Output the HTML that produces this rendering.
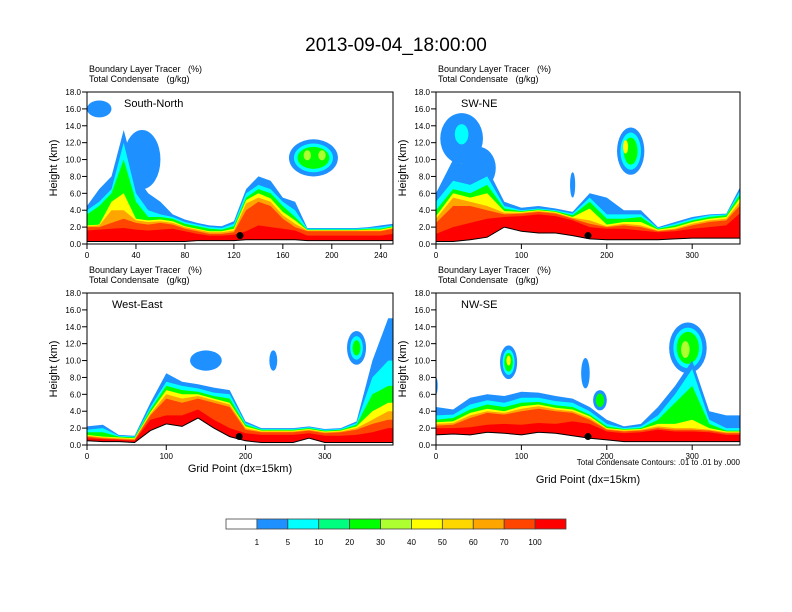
<!DOCTYPE html>
<html><head><meta charset="utf-8"><style>
body{margin:0;background:#fff;}
svg{display:block;font-family:"Liberation Sans",sans-serif;}
text{white-space:pre;}
</style></head><body>
<svg id="chart" width="792" height="612" viewBox="0 0 792 612" xmlns="http://www.w3.org/2000/svg">
<text x="396" y="51" font-size="19" text-anchor="middle">2013-09-04_18:00:00</text>
<g id="panels"></g>
<g id="colorbar"></g>
</svg>
<script>
const NS="http://www.w3.org/2000/svg";
const colors=["#ffffff","#1e90ff","#00ffff","#00ff7f","#00ff00","#adff2f","#ffff00","#ffd700","#ffa500","#ff4500","#ff0000"];
const cbLabels=["1","5","10","20","30","40","50","60","70","100"];
const layerColors=[1,2,4,6,8,9,10];

// Panel 1 South-North
const p1x=[0,10,20,30,40,50,60,70,80,90,100,110,120,130,140,150,160,170,180,190,200,210,220,230,240,250];
const p1terrain=[0.3,0.3,0.3,0.3,0.3,0.3,0.3,0.3,0.3,0.4,0.4,0.4,0.4,0.5,0.5,0.5,0.5,0.5,0.4,0.4,0.4,0.4,0.4,0.4,0.4,0.4];
const p1blue=[4.5,6.5,8,13.5,8,6,5,3.5,2.9,2.5,2.2,2.1,2.7,6.5,8,7.5,5.5,5,1.9,1.9,1.9,1.9,1.9,2.0,2.2,2.4];
const p1cyan=[4,5,6.5,12,6,4,3.5,3.2,2.6,2.3,2.0,1.9,2.4,6,7,6.5,5,4,1.8,1.8,1.8,1.8,1.8,1.9,2.0,2.2];
const p1green=[3.5,4.5,6,10,5,3.2,3.2,3.0,2.4,2.1,1.8,1.7,2.1,5.5,6.5,6.0,4.5,3.2,1.7,1.7,1.7,1.7,1.7,1.8,1.8,2.1];
const p1yellow=[2.2,2.3,5,6,3.0,2.8,2.9,2.7,2.1,1.8,1.5,1.5,1.8,5.2,6.0,5.4,3.8,2.8,1.65,1.65,1.65,1.65,1.65,1.7,1.7,2.0];
const p1orange=[2.1,2.2,4,4,2.8,2.6,2.7,2.5,2.0,1.7,1.4,1.4,1.6,4.8,5.5,5.0,3.4,2.4,1.6,1.6,1.6,1.6,1.6,1.6,1.6,1.9];
const p1ored=[2.0,2.0,2.5,3.0,2.5,2.3,2.5,2.3,1.8,1.5,1.2,1.2,1.4,4.0,5.0,4.5,3.0,2.0,1.5,1.5,1.5,1.5,1.5,1.5,1.5,1.8];
const p1red=[1.6,1.7,1.8,1.9,1.7,1.6,1.7,1.8,1.5,1.2,1.0,1.0,1.1,1.5,2.2,2.0,1.8,1.6,1.0,1.0,1.0,1.0,1.0,1.0,1.0,1.2];
const p1blobs=[[10,16,10,1,1],[45,10,15,3.5,1],[185,10.2,20,2.2,1],[185,10.2,16,1.7,2],[185,10.2,13,1.3,4],[180,10.5,3,0.6,5],[192,10.5,3,0.6,5]];
const p1dot=[125,1.0];

// Panel 2 SW-NE
const p2x=[0,20,40,60,80,100,120,140,160,180,200,220,240,260,280,300,320,340,360];
const p2terrain=[0.3,0.3,0.5,0.8,2.0,1.5,1.3,1.3,1.0,0.6,0.5,0.5,0.5,0.5,0.6,0.7,0.7,0.7,0.7];
const p2blue=[6,10,9,9,5,4.3,4.5,4.2,3.8,6.0,5.5,4.0,4.0,2.0,2.6,3.2,3.5,3.6,7.5];
const p2cyan=[5,7.5,7,8,4.5,4.0,4.2,4.0,3.6,5.5,3.5,3.5,3.5,1.9,2.4,3.0,3.4,3.5,7];
const p2green=[4.0,6.5,6.0,7.0,4.2,3.9,4.1,3.9,3.4,5.0,3.0,3.0,3.2,1.8,2.2,2.8,3.2,3.4,6.5];
const p2yellow=[3.3,6.0,5.5,6,3.9,3.8,4.0,3.8,3.2,4.2,2.3,2.6,2.6,1.7,2.0,2.6,3.0,3.2,6];
const p2orange=[3.0,5.5,5.0,4.5,3.7,3.7,3.9,3.7,3.1,2.8,2.1,2.4,2.2,1.6,1.8,2.4,2.8,3.0,5.5];
const p2ored=[2.5,4.5,4.5,4.0,3.5,3.6,3.8,3.6,3.0,2.4,2.0,2.2,2.0,1.5,1.7,2.2,2.6,2.8,5];
const p2red=[1.2,2.0,2.5,3.0,3.2,3.3,3.5,3.3,2.8,2.0,1.8,1.8,1.6,1.4,1.5,1.8,2.0,2.2,4];
const p2blobs=[[30,12.5,25,3,1],[50,9,20,2.5,1],[30,13,8,1.2,2],[160,7,3,1.5,1],[228,11,16,2.8,1],[228,11,12,2.2,2],[228,11,8,1.6,4],[222,11.5,3,0.8,6]];
const p2dot=[178,1.0];

// Panel 3 West-East
const p3x=[0,20,40,60,80,100,120,140,160,180,200,220,240,260,280,300,320,340,360,380,400];
const p3terrain=[0.5,0.4,0.4,0.3,1.7,2.5,2.2,3.2,2.0,1.0,0.5,0.3,0.3,0.3,0.8,0.3,0.3,0.3,0.3,0.3,0.3];
const p3blue=[2.2,2.4,1.2,1.1,5,8.5,7.5,7.2,6.8,6.5,2.8,2.0,2.0,2.0,2.2,1.9,2.0,2.8,10,15,15];
const p3cyan=[1.8,2.0,1.1,1.0,4.5,7.5,7.0,6.7,6.2,6.0,2.6,1.9,1.9,1.9,2.1,1.8,1.9,2.6,8,10,10];
const p3green=[1.5,1.5,1.0,0.9,4.2,7.0,6.5,6.3,5.8,5.5,2.4,1.8,1.8,1.8,2.0,1.7,1.8,2.4,6,7,7];
const p3yellow=[1.2,1.0,0.9,0.8,3.9,6.5,6.0,6.0,5.5,5.0,2.2,1.7,1.7,1.7,1.9,1.6,1.7,2.2,4,5,5];
const p3orange=[1.1,0.9,0.8,0.7,3.7,6.0,5.5,5.8,5.3,4.8,2.0,1.6,1.6,1.6,1.8,1.5,1.6,2.0,3,4,4];
const p3ored=[1.0,0.8,0.7,0.6,3.5,5.5,5.0,5.5,5.0,4.5,1.8,1.5,1.5,1.5,1.7,1.4,1.5,1.8,2.5,3,3];
const p3red=[0.8,0.7,0.6,0.5,3,3.5,3.5,4.2,3.0,2.0,1.4,1.2,1.2,1.2,1.4,1.1,1.1,1.2,1.5,2,2];
const p3blobs=[[150,10,20,1.2,1],[235,10,5,1.2,1],[340,11.5,12,2,1],[340,11.5,8,1.4,2],[340,11.5,5,0.9,4]];
const p3dot=[192,1.0];

// Panel 4 NW-SE
const p4x=[0,20,40,60,80,100,120,140,160,180,200,220,240,260,280,300,320,340,360];
const p4terrain=[1.2,1.3,1.2,1.5,1.4,1.2,1.5,1.4,1.1,0.8,0.6,0.4,0.4,0.4,0.4,0.4,0.4,0.4,0.4];
const p4blue=[4.5,4.2,5.6,6.0,5.8,6.3,6.2,5.8,5.5,4.5,3.0,2.2,2.5,4.5,7,10,4,3.5,3.5];
const p4cyan=[3.5,3.6,4.8,5.3,5.0,5.6,5.6,5.2,5.0,4.0,2.5,2.0,2.2,3.5,6,9,3,2.0,2.0];
const p4green=[3.0,3.2,4.2,4.8,4.5,5.0,5.1,4.7,4.5,3.6,2.2,1.9,2.0,3.0,5,7,2.5,1.7,1.7];
const p4yellow=[2.7,2.8,3.8,4.3,4.0,4.6,4.8,4.4,4.2,3.4,2.0,1.8,1.9,2.5,2.5,3,2.0,1.6,1.6];
const p4orange=[2.5,2.6,3.5,4.0,3.8,4.3,4.6,4.2,4.0,3.2,1.9,1.7,1.8,2.2,2.0,2.0,1.8,1.5,1.5];
const p4ored=[2.3,2.4,3.2,3.8,3.6,4.0,4.3,4.0,3.8,3.0,1.8,1.6,1.7,2.0,1.8,1.8,1.7,1.4,1.4];
const p4red=[2,2.0,2.1,2.4,2.5,2.4,2.6,2.5,2.8,2.5,1.6,1.4,1.5,1.8,1.6,1.6,1.5,1.2,1.2];
const p4blobs=[[85,9.8,10,2,1],[85,9.8,7,1.5,2],[85,9.8,5,1.1,4],[85,10,2.5,0.6,6],[175,8.5,5,1.8,1],[192,5.3,8,1.2,1],[192,5.3,5,0.8,4],[295,11.5,22,3,1],[295,11.5,17,2.4,2],[295,11.5,13,1.9,4],[292,11.3,5,1.0,5],[0,7.0,2,1,1]];
const p4dot=[178,1.0];

const yTicks=[0,2,4,6,8,10,12,14,16,18];
const panels=[
 {name:"south-north",label:"South-North",x0:87,y0:92,w:306,h:152,xmax:250,xt:[0,40,80,120,160,200,240],xs:p1x,t:p1terrain,L:[p1blue,p1cyan,p1green,p1yellow,p1orange,p1ored,p1red],blobs:p1blobs,dot:p1dot,xlab:false},
 {name:"sw-ne",label:"SW-NE",x0:436,y0:92,w:304,h:152,xmax:356,xt:[0,100,200,300],xs:p2x,t:p2terrain,L:[p2blue,p2cyan,p2green,p2yellow,p2orange,p2ored,p2red],blobs:p2blobs,dot:p2dot,xlab:false},
 {name:"west-east",label:"West-East",x0:87,y0:293,w:306,h:152,xmax:386,xt:[0,100,200,300],xs:p3x,t:p3terrain,L:[p3blue,p3cyan,p3green,p3yellow,p3orange,p3ored,p3red],blobs:p3blobs,dot:p3dot,xlab:true},
 {name:"nw-se",label:"NW-SE",x0:436,y0:293,w:304,h:152,xmax:356,xt:[0,100,200,300],xs:p4x,t:p4terrain,L:[p4blue,p4cyan,p4green,p4yellow,p4orange,p4ored,p4red],blobs:p4blobs,dot:p4dot,xlab:true}
];
function mk(tag,attrs,parent){const e=document.createElementNS(NS,tag);for(const k in attrs)e.setAttribute(k,attrs[k]);if(parent)parent.appendChild(e);return e;}
const root=document.getElementById("panels");
panels.forEach((p,pi)=>{
 const g=mk("g",{},root);
 
 
 const sx=v=>p.x0+v/p.xmax*p.w;
 const sy=v=>p.y0+p.h-v/18*p.h;
 const cid="clip"+pi;
 const cp=mk("clipPath",{id:cid},g);mk("rect",{x:p.x0,y:p.y0,width:p.w,height:p.h},cp);
 const plot=mk("g",{"clip-path":"url(#"+cid+")"},g);
 p.blobs.forEach(b=>{
  const e=mk("ellipse",{cx:sx(b[0]),cy:sy(b[1]),rx:b[2]/p.xmax*p.w,ry:b[3]/18*p.h,fill:colors[b[4]]},plot);
  
  
 });
 p.L.forEach((arr,li)=>{
  let d="M"+sx(p.xs[0])+","+sy(0);
  arr.forEach((v,i)=>{d+=" L"+sx(p.xs[i]).toFixed(1)+","+sy(v).toFixed(1);});
  d+=" L"+sx(p.xs[p.xs.length-1])+","+sy(0)+"Z";
  const path=mk("path",{d:d,fill:colors[layerColors[li]]},plot);
  
  
 });
 let td="M"+sx(p.xs[0])+","+sy(0);
 let tl="";
 p.t.forEach((v,i)=>{td+=" L"+sx(p.xs[i]).toFixed(1)+","+sy(v).toFixed(1);tl+=(i?" L":"M")+sx(p.xs[i]).toFixed(1)+","+sy(v).toFixed(1);});
 td+=" L"+sx(p.xs[p.xs.length-1])+","+sy(0)+"Z";
 const ter=mk("path",{d:td,fill:"#fff"},plot);
 
 
 mk("path",{d:tl,fill:"none",stroke:"#000","stroke-width":1},plot);
 const dot=mk("circle",{cx:sx(p.dot[0]),cy:sy(p.dot[1]),r:3.5,fill:"#000"},plot);
 
 
 const fr=mk("rect",{x:p.x0,y:p.y0,width:p.w,height:p.h,fill:"none",stroke:"#000","stroke-width":1},g);
 
 
 yTicks.forEach(v=>{
  const y=sy(v);
  mk("line",{x1:p.x0-5,x2:p.x0,y1:y,y2:y,stroke:"#000"},g);
  const t=mk("text",{x:p.x0-6,y:y+3,"font-size":8,"text-anchor":"end"},g);
  t.textContent=v.toFixed(1);
  
  
 });
 p.xt.forEach(v=>{
  const x=sx(v);
  mk("line",{x1:x,x2:x,y1:p.y0+p.h,y2:p.y0+p.h+5,stroke:"#000"},g);
  const t=mk("text",{x:x,y:p.y0+p.h+14,"font-size":8,"text-anchor":"middle"},g);
  t.textContent=String(v);
  
  
 });
 const yt=mk("text",{x:0,y:0,"font-size":11,"text-anchor":"middle",transform:"translate("+(p.x0-30)+","+(p.y0+p.h/2)+") rotate(-90)"},g);
 yt.textContent="Height (km)";
 
 
 const t1=mk("text",{x:p.x0+2,y:p.y0-20,"font-size":9},g);
 t1.textContent="Boundary Layer Tracer   (%)";
 
 
 const t2=mk("text",{x:p.x0+2,y:p.y0-10,"font-size":9},g);
 t2.textContent="Total Condensate   (g/kg)";
 
 
 const lb=mk("text",{x:p.x0+(pi==0?37:25),y:p.y0+15,"font-size":11},g);
 lb.textContent=p.label;
 
 
 if(p.xlab){
  const xl=mk("text",{x:p.x0+p.w/2,y:pi==3?p.y0+p.h+38:p.y0+p.h+27,"font-size":11,"text-anchor":"middle"},g);
  xl.textContent="Grid Point (dx=15km)";
  
  
 }
 if(pi==3){
  const c=mk("text",{x:p.x0+p.w,y:p.y0+p.h+20,"font-size":8,"text-anchor":"end"},g);
  c.textContent="Total Condensate Contours: .01 to .01 by .000";
  
  
 }
});
const cb=document.getElementById("colorbar");
const cbx=226,cbw=340/11;
colors.forEach((c,i)=>{
 const r=mk("rect",{x:cbx+i*cbw,y:519,width:cbw,height:10,fill:c,stroke:"#444","stroke-width":0.8},cb);
 
 
});
cbLabels.forEach((l,i)=>{
 const t=mk("text",{x:cbx+(i+1)*cbw,y:545,"font-size":8,"text-anchor":"middle"},cb);
 t.textContent=l;
 
 
});
</script>
</body></html>
